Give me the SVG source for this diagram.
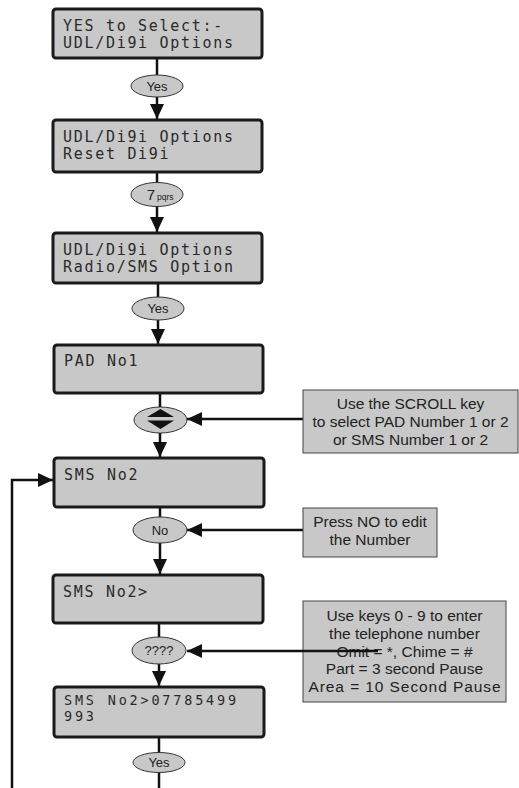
<svg xmlns="http://www.w3.org/2000/svg" width="519" height="788" viewBox="0 0 519 788">
<style>
.lcd{fill:#c8c8c8;stroke:#1a1a1a;stroke-width:3}
.lt{font-family:"DejaVu Sans Mono","Liberation Mono",monospace;font-size:15px;fill:#2a2a2a;letter-spacing:1.7px}
.lt2{font-family:"DejaVu Sans Mono","Liberation Mono",monospace;font-size:13.5px;fill:#2a2a2a;letter-spacing:2.8px}
.key{fill:#c8c8c8;stroke:#333;stroke-width:1}
.kt{font-family:"Liberation Sans",Arial,sans-serif;font-size:13px;fill:#222;text-anchor:middle}
.info{fill:#c8c8c8;stroke:#444;stroke-width:1}
.it{font-family:"Liberation Sans",Arial,sans-serif;font-size:15.5px;fill:#222;text-anchor:middle}
.c{fill:none;stroke:#111;stroke-width:2.5}
</style>
<defs>
<marker id="ah" viewBox="0 0 15 14" refX="15" refY="7" markerWidth="15" markerHeight="14" markerUnits="userSpaceOnUse" orient="auto">
<path d="M0,0 L15,7 L0,14 Z" fill="#111"/>
</marker>
</defs>
<rect width="519" height="788" fill="#fff"/>

<g id="connectors">
<path class="c" d="M157,58 V75"/>
<path class="c" d="M157,97 V119" marker-end="url(#ah)"/>
<path class="c" d="M157,172 V182"/>
<path class="c" d="M157,207 V232" marker-end="url(#ah)"/>
<path class="c" d="M158,283 V297"/>
<path class="c" d="M158,320 V344" marker-end="url(#ah)"/>
<path class="c" d="M160,393 V407"/>
<path class="c" d="M160,433 V457" marker-end="url(#ah)"/>
<path class="c" d="M160,507 V517"/>
<path class="c" d="M160,543 V574" marker-end="url(#ah)"/>
<path class="c" d="M159,623 V637"/>
<path class="c" d="M159,664 V686" marker-end="url(#ah)"/>
<path class="c" d="M159,737 V753"/>
<path class="c" d="M159,772 V788"/>
<path class="c" d="M12,788 V480 H53" marker-end="url(#ah)"/>
<path class="c" d="M303,419 H187" marker-end="url(#ah)"/>
<path class="c" d="M303,530 H187" marker-end="url(#ah)"/>
</g>

<g id="box1">
<rect class="lcd" x="53" y="9" width="209" height="49" rx="3"/>
<text class="lt" x="63" y="31">YES to Select:-</text>
<text class="lt" x="63" y="48">UDL/Di9i Options</text>
</g>
<g id="key-yes1">
<ellipse class="key" cx="157" cy="86" rx="26" ry="11"/>
<text class="kt" x="157" y="91">Yes</text>
</g>

<g id="box2">
<rect class="lcd" x="53" y="120" width="209" height="52" rx="3"/>
<text class="lt" x="63" y="142">UDL/Di9i Options</text>
<text class="lt" x="63" y="159">Reset Di9i</text>
</g>
<g id="key-7">
<ellipse class="key" cx="157" cy="194.5" rx="26" ry="12"/>
<text x="155" y="200" font-family="Liberation Sans,Arial,sans-serif" font-size="15" fill="#222" text-anchor="end">7</text>
<text x="157" y="200" font-family="Liberation Sans,Arial,sans-serif" font-size="8.5" fill="#222">pqrs</text>
</g>

<g id="box3">
<rect class="lcd" x="53" y="233" width="209" height="50" rx="3"/>
<text class="lt" x="63" y="255">UDL/Di9i Options</text>
<text class="lt" x="63" y="272">Radio/SMS Option</text>
</g>
<g id="key-yes2">
<ellipse class="key" cx="158" cy="308.5" rx="26" ry="11.5"/>
<text class="kt" x="158" y="313">Yes</text>
</g>

<g id="box4">
<rect class="lcd" x="54" y="345" width="209" height="48" rx="3"/>
<text class="lt" x="64" y="366">PAD No1</text>
</g>
<g id="key-scroll">
<ellipse class="key" cx="160.5" cy="420" rx="26.5" ry="13"/>
<path d="M147,417 L160.5,409 L174,417 Z" fill="#111"/>
<path d="M147,420.5 L174,420.5 L160.5,429 Z" fill="#111"/>
</g>
<g id="info-scroll">
<rect class="info" x="303" y="390" width="215" height="63"/>
<text class="it" x="410.5" y="409">Use the SCROLL key</text>
<text class="it" x="410.5" y="427">to select PAD Number 1 or 2</text>
<text class="it" x="410.5" y="445">or SMS Number 1 or 2</text>
</g>

<g id="box5">
<rect class="lcd" x="54" y="458" width="210" height="49" rx="3"/>
<text class="lt" x="64" y="480">SMS No2</text>
</g>
<g id="key-no">
<ellipse class="key" cx="160" cy="530" rx="27" ry="13"/>
<text class="kt" x="160" y="535">No</text>
</g>
<g id="info-no">
<rect class="info" x="303" y="508" width="134" height="49"/>
<text class="it" x="370" y="527">Press NO to edit</text>
<text class="it" x="370" y="545">the Number</text>
</g>

<g id="box6">
<rect class="lcd" x="53" y="575" width="210" height="48" rx="3"/>
<text class="lt" x="63" y="597">SMS No2&gt;</text>
</g>
<g id="key-digits">
<ellipse class="key" cx="159" cy="650.5" rx="27" ry="13.5"/>
<text class="kt" x="159" y="655">????</text>
</g>
<g id="info-digits">
<rect class="info" x="303" y="601" width="203" height="101"/>
<text class="it" x="404.5" y="621">Use keys 0 - 9 to enter</text>
<text class="it" x="404.5" y="639">the telephone number</text>
<text class="it" x="404.5" y="657">Omit = *, Chime = #</text>
<text class="it" x="404.5" y="674">Part = 3 second Pause</text>
<text class="it" x="404.5" y="692" textLength="192" lengthAdjust="spacing">Area = 10 Second Pause</text>
</g>
<path class="c" d="M378,651 H187" marker-end="url(#ah)"/>

<g id="box7">
<rect class="lcd" x="54" y="687" width="210" height="50" rx="3"/>
<text class="lt2" x="64" y="705">SMS No2&gt;07785499</text>
<text class="lt2" x="64" y="721">993</text>
</g>
<g id="key-yes3">
<ellipse class="key" cx="159" cy="762.5" rx="26" ry="10"/>
<text class="kt" x="159" y="767">Yes</text>
</g>
</svg>
